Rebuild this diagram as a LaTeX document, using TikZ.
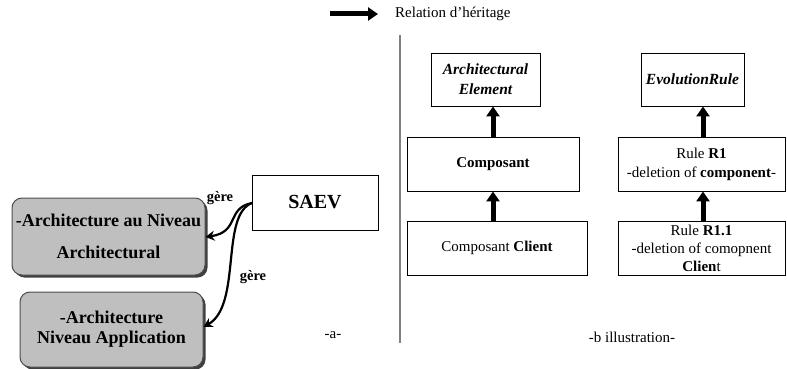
\documentclass[tikz,border=0pt]{standalone}
\usepackage{fontspec}
\setmainfont{Liberation Serif}
\usetikzlibrary{arrows.meta,shadows}
\begin{document}
\begin{tikzpicture}[x=1pt,y=-1pt,
  box/.style={draw=black,line width=0.9pt,fill=white,align=center,inner sep=0pt},
  graybox/.style={draw=black!70,line width=1pt,fill=black!25,rounded corners=10pt,align=center,inner sep=0pt,
    drop shadow={shadow xshift=2.5pt,shadow yshift=-2.5pt,fill=black!75,opacity=1}},
  inh/.style={line width=5pt,-{Triangle[width=13pt,length=10pt]}},
  manage/.style={line width=2.2pt,-{Stealth[width=10pt,length=9pt]}},
  lbl/.style={font=\fontsize{14.5}{16}\selectfont\bfseries,inner sep=0pt}]
\useasboundingbox (0,0) rectangle (787,369);

% legend
\coordinate (la) at (330,14);
\coordinate (lb) at (378,14);
\draw[inh] (la) -- (lb);
\node[anchor=west,inner sep=0pt,font=\fontsize{15}{17}\selectfont] (leg) at (395,14) {Relation d’héritage};

% separator
\coordinate (s1) at (400,35);
\coordinate (s2) at (400,343);
\draw[black!50,line width=1.5pt] (s1) -- (s2);

% part a
\node[box,minimum width=126pt,minimum height=55pt,font=\fontsize{20}{22}\selectfont\bfseries] (saev) at (315,202.5) {SAEV};
\node[graybox,minimum width=193pt,minimum height=77pt,font=\fontsize{18}{32}\selectfont\bfseries] (arch) at (108.5,236.5) {-Architecture au Niveau\\Architectural};
\node[graybox,minimum width=183pt,minimum height=75pt,font=\fontsize{18}{20}\selectfont\bfseries] (app) at (111.5,329.5) {-Architecture\\Niveau Application};

\coordinate (st) at (252,203);
\draw[manage] (st) .. controls (226,208) and (240,232) .. (arch.east |- 0,237);
\draw[manage] (st) .. controls (220,215) and (242,305) .. (app.east |- 0,327);
\node[lbl] (g1) at (220,198) {gère};
\node[lbl] (g2) at (253,277) {gère};
\node[font=\fontsize{15}{17}\selectfont,inner sep=0pt] (pa) at (333,335) {-a-};

% part b
\node[box,minimum width=109pt,minimum height=53pt,font=\fontsize{15.5}{20}\selectfont\bfseries\itshape] (ae) at (485.5,79.5) {Architectural\\Element};
\node[box,minimum width=103pt,minimum height=53pt,font=\fontsize{15.5}{20}\selectfont\bfseries\itshape] (er) at (692.5,79.5) {EvolutionRule};
\node[box,minimum width=172pt,minimum height=54pt,font=\fontsize{15}{19}\selectfont\bfseries] (comp) at (493,164) {Composant};
\node[box,minimum width=167pt,minimum height=54pt,font=\fontsize{15}{19}\selectfont] (r1) at (701.5,164) {Rule \textbf{R1}\\-deletion of \textbf{component}-};
\node[box,minimum width=180pt,minimum height=54pt,font=\fontsize{15}{19}\selectfont] (cc) at (497,248) {Composant \textbf{Client}};
\node[box,minimum width=167pt,minimum height=54pt,font=\fontsize{15}{18}\selectfont] (r11) at (701.5,248) {Rule \textbf{R1.1}\\-deletion of comopnent\\\textbf{Clien}t};

\draw[inh] (comp.north) -- (comp.north |- ae.south);
\draw[inh] (cc.north -| comp.north) -- (comp.south);
\draw[inh] ([xshift=1.5pt]r1.north) -- ([xshift=1.5pt]r1.north |- er.south);
\draw[inh] ([xshift=1.5pt]r11.north) -- ([xshift=1.5pt]r1.south);

\node[font=\fontsize{15}{17}\selectfont,inner sep=0pt] (pb) at (632,337) {-b illustration-};
\end{tikzpicture}
\end{document}
